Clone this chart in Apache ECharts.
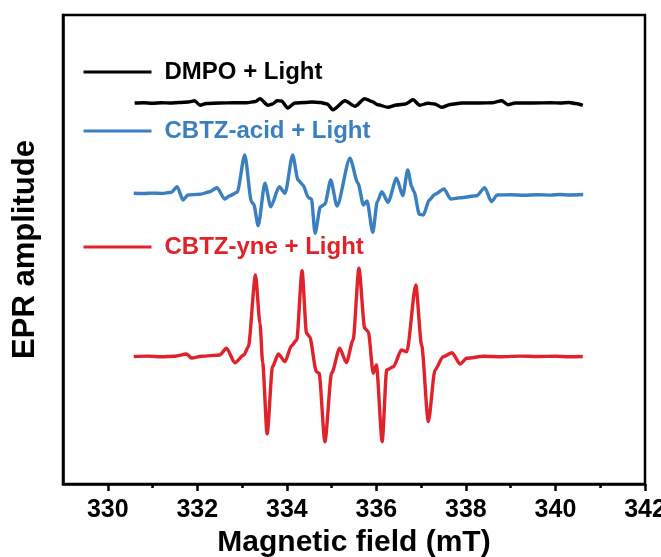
<!DOCTYPE html>
<html>
<head>
<meta charset="utf-8">
<script src="https://cdn.jsdelivr.net/npm/echarts@6/dist/echarts.min.js"></script>
<style>
  html, body { margin: 0; padding: 0; background: #fff; }
  #chart { width: 661px; height: 557px; }
</style>
</head>
<body>
<div id="chart"></div>
<script>
// EPR spectra (DMPO spin trap), magnetic field in mT, amplitude in arbitrary units.
const seriesNames = ['DMPO + Light', 'CBTZ-acid + Light', 'CBTZ-yne + Light'];
const majorTicks = [330, 332, 334, 336, 338, 340, 342];
const minorTicks = [331, 333, 335, 337, 339, 341];

// Vertical offsets used to stack the three spectra
const traceOffsets = [381, 290.5, 127.5];

const fieldDMPO = [330.60, 330.8, 331.0, 331.2, 331.4, 331.6, 331.8, 331.94, 332.06, 332.2, 332.5, 332.8, 333.1, 333.3,
  333.40, 333.58, 333.68, 333.78, 333.88, 334.02, 334.18, 334.4, 334.56, 334.75, 334.9, 335.03, 335.30, 335.52,
  335.74, 335.9, 336.03, 336.26, 336.45, 336.65, 336.82, 336.97, 337.15, 337.3, 337.46, 337.65, 337.9, 338.3,
  338.6, 338.80, 338.94, 339.1, 339.5, 339.9, 340.1, 340.3, 340.45, 340.61];
const ampDMPO = [0, 0.3, -0.3, 0.2, 0, 0.5, 1, 2.3, -2.3, -0.5, 0, 0.3, 0.2, 1.5,
  4.3, -2.3, -1, 2.3, 2, -5, 0, 0.5, 1, 0.5, -1, -6.7, 2.3, -3.3,
  4.3, 1.5, -1.7, -4.3, -2, -1, 3.3, -2.3, -0.2, -1, -4.3, -1.5, 0, 0,
  0.3, 2.3, -1.7, 0, 0, 0.2, 0, 0.5, -0.5, -2.3];

const fieldAcid = [330.58, 330.8, 331.0, 331.2, 331.42, 331.55, 331.68, 331.79, 332.06, 332.28, 332.44, 332.61, 332.73,
  332.89, 333.06, 333.21, 333.26, 333.36, 333.51, 333.64, 333.83, 333.96, 334.13, 334.25, 334.36, 334.48, 334.55,
  334.63, 334.75, 334.85, 334.98, 335.12, 335.41, 335.59, 335.71, 335.79, 335.92, 336.02, 336.12, 336.26, 336.45,
  336.59, 336.70, 336.79, 336.84, 336.96, 337.05, 337.18, 337.31, 337.51, 337.66, 337.87, 338.24, 338.42, 338.57,
  338.70, 339.0, 339.3, 339.6, 339.9, 340.1, 340.3, 340.62];
const ampAcid = [0.2, 0, 0.4, 0.1, 1.2, 6.8, -6.5, -1.5, -0.8, 1.8, 5.8, -5.5, -2.2,
  1.2, 38.5, -8.2, -10.8, -32.2, 10.2, -13.2, 6.8, 0.2, 38.5, 13.5, 8.5, -4.2, -5.5,
  -39.8, -13.2, -10.8, 13.5, -12.5, 35.2, 10.2, -11.5, -7.5, -38.8, -8.2, 1.8, -8.8, 15.2,
  -2.2, 23.5, 6.8, 1.8, -20.8, -21.5, -6.5, -0.8, 4.5, -5.5, -4.2, -2.2, 5.8, -8.2,
  -1.5, -1.3, -1.8, -1.2, -1.6, -1.0, -1.5, -1.0];

const fieldYne = [330.58, 330.9, 331.2, 331.5, 331.76, 331.87, 332.1, 332.5, 332.65, 332.84, 333.04, 333.14, 333.30,
  333.40, 333.46, 333.56, 333.68, 333.81, 333.96, 334.10, 334.22, 334.34, 334.44, 334.51, 334.66, 334.72, 334.85,
  335.00, 335.18, 335.33, 335.48, 335.61, 335.74, 335.82, 335.93, 336.00, 336.13, 336.23, 336.38, 336.56, 336.68,
  336.88, 337.01, 337.16, 337.31, 337.49, 337.69, 337.87, 338.02, 338.4, 338.8, 339.2, 339.6, 340.0, 340.3, 340.61];
const ampYne = [0, 0.4, -0.3, 0.3, 2.5, -1.5, 0.3, 1.5, 8.2, -6.2, 1.5, 9.8, 81.5,
  33.2, -6.2, -77.5, -10.2, 2.5, -5.2, 10.5, 16.5, 85.8, 23.2, 19.8, -15.2, -16.8, -85.2,
  -16.8, 8.2, -6.2, 16.5, 88.2, 28.2, 24.8, -16.8, -8.5, -85.2, -13.5, -10.2, 6.5, 4.8,
  71.5, 11.5, -65.2, -13.5, -0.2, 3.8, -7.5, -1.8, 0.3, -0.2, 0.4, 0, 0.3, -0.2, 0];

const traceFields = [fieldDMPO, fieldAcid, fieldYne];
const traceAmps = [ampDMPO, ampAcid, ampYne];
const traceColors = ['#000000', '#3a7fc0', '#e0222a'];
const legendTops = [60, 119, 235];

const fontFamily = 'Liberation Sans, Arial, sans-serif';

const chart = echarts.init(document.getElementById('chart'));

const series = seriesNames.map((name, k) => ({
  name: name,
  type: 'line',
  showSymbol: false,
  symbol: 'none',
  smooth: 0.25,
  smoothMonotone: 'x',
  color: traceColors[k],
  lineStyle: { width: 3.4, color: traceColors[k] },
  data: traceFields[k].map((f, i) => [f, traceAmps[k][i] + traceOffsets[k]])
}));

const legends = seriesNames.map((name, k) => ({
  show: true,
  data: [{ name: name, textStyle: { color: traceColors[k] } }],
  left: 82,
  top: legendTops[k],
  padding: 0,
  itemWidth: 68,
  itemHeight: 14,
  itemStyle: { opacity: 0 },
  lineStyle: { width: 3, color: traceColors[k] },
  textStyle: { fontSize: 24, fontWeight: 'bold', fontFamily: fontFamily, color: traceColors[k], padding: [0, 0, 0, 8] },
  selectedMode: false
}));

chart.setOption({
  animation: false,
  backgroundColor: '#ffffff',
  grid: {
    left: 63, right: 16, top: 15, bottom: 73,
    outerBoundsMode: 'none',
    containLabel: false,
    show: true, borderColor: '#000', borderWidth: 2.5, backgroundColor: 'transparent'
  },
  legend: legends,
  xAxis: [
    {
      type: 'value', min: 329, max: 342,
      name: 'Magnetic field (mT)', nameLocation: 'middle', nameGap: 40,
      nameTextStyle: { fontSize: 30, fontWeight: 'bold', fontFamily: fontFamily, color: '#000' },
      axisLine: { show: true, onZero: false, lineStyle: { color: '#000', width: 2.5 } },
      axisTick: { show: true, inside: false, length: 7, customValues: majorTicks, lineStyle: { color: '#000', width: 2.5 } },
      axisLabel: { customValues: majorTicks, margin: 14, fontSize: 25, fontWeight: 'bold', fontFamily: fontFamily, color: '#000' },
      splitLine: { show: false }
    },
    {
      type: 'value', min: 329, max: 342, position: 'bottom',
      axisLine: { show: false, onZero: false },
      axisTick: { show: true, inside: false, length: 4, customValues: minorTicks, lineStyle: { color: '#000', width: 2.5 } },
      axisLabel: { show: false },
      splitLine: { show: false }
    }
  ],
  yAxis: {
    type: 'value', min: 0, max: 469,
    name: 'EPR amplitude', nameLocation: 'middle', nameGap: 22, nameRotate: 90,
    nameTextStyle: { fontSize: 31, fontWeight: 'bold', fontFamily: fontFamily, color: '#000' },
    axisLine: { show: true, onZero: false, lineStyle: { color: '#000', width: 2.5 } },
    axisTick: { show: false },
    axisLabel: { show: false },
    splitLine: { show: false }
  },
  series: series
});
</script>
</body>
</html>
